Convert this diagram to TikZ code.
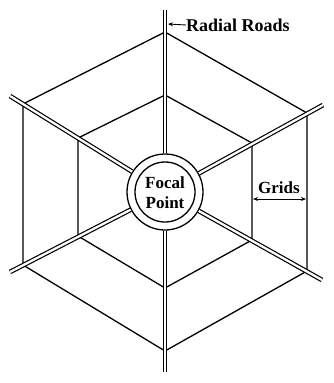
\documentclass[tikz,border=0pt]{standalone}
\usepackage{fontspec}
\setmainfont{Liberation Serif}
\usetikzlibrary{arrows.meta}
\begin{document}
\begin{tikzpicture}[x=1pt,y=-1pt,
  hexline/.style={line width=1.3pt, line join=miter},
  road/.style={line width=1.2pt, double=white, double distance=2.3pt},
  lbl/.style={font=\fontsize{17}{20}\selectfont\bfseries, inner sep=0pt},
  ptr/.style={line width=0.9pt, -{Stealth[length=5pt,width=4pt]}},
  dptr/.style={line width=0.9pt, {Stealth[length=5pt,width=4pt]}-{Stealth[length=5pt,width=4pt]}}]
\useasboundingbox (0,0) rectangle (334,383);
% outer grid ring
\draw[hexline] (165,32) -- (307,113) -- (307,271) -- (165,351) -- (23,265) -- (23,104) -- cycle;
% inner grid ring
\draw[hexline] (165,95) -- (252,143) -- (252,240) -- (165,288) -- (78,236) -- (78,138) -- cycle;
% focal point
\node[circle, draw, line width=1.3pt, fill=white, minimum size=76pt, inner sep=0pt] (focal) at (165,192) {};
\node[circle, draw, line width=1.3pt, minimum size=60pt, inner sep=0pt] (focalin) at (focal.center) {};
\node[lbl, align=center] (ftext) at (165,193) {Focal\\Point};
% road ends
\coordinate (rT) at (165,10);
\coordinate (rB) at (165,372);
\coordinate (rUL) at (10,96);
\coordinate (rUR) at (323,105);
\coordinate (rLL) at (10,272);
\coordinate (rLR) at (322,280);
\foreach \e in {rT,rB,rUL,rUR,rLL,rLR} \draw[road] (focal) -- (\e);
% labels
\node[lbl, anchor=west, font=\fontsize{18}{20}\selectfont\bfseries] (rr) at (186,25) {Radial Roads};
\coordinate (rrtip) at (168,24);
\draw[ptr] (rr.west) -- (rrtip);
\node[lbl] (grids) at (279,188) {Grids};
\coordinate (g1) at (253,199);
\coordinate (g2) at (306,199);
\draw[dptr] (g1) -- (g2);
\end{tikzpicture}
\end{document}
